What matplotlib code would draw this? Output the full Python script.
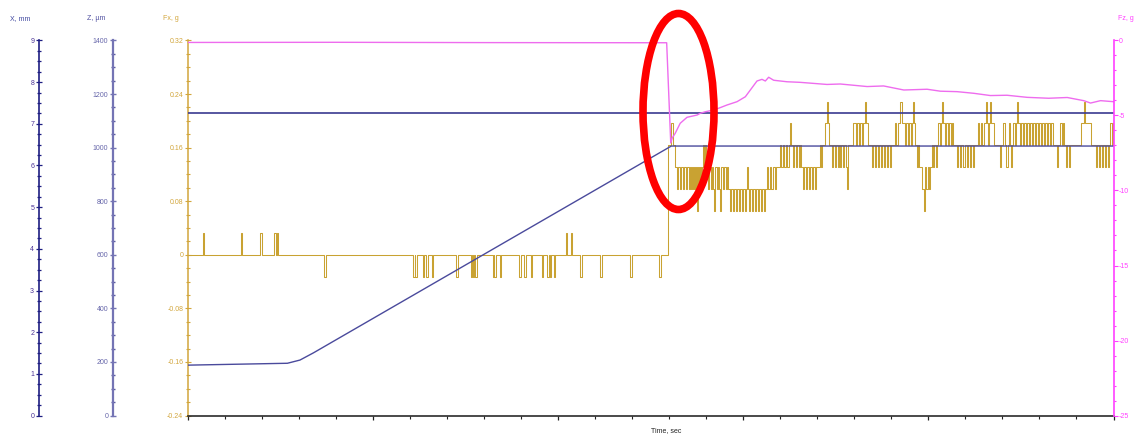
import matplotlib
matplotlib.use("Agg")
import matplotlib.pyplot as plt
from matplotlib.patches import Ellipse
from matplotlib.ticker import MultipleLocator, NullFormatter, FuncFormatter

plt.rcParams['font.family'] = ['Liberation Sans', 'DejaVu Sans']
plt.rcParams['axes.unicode_minus'] = False

# ---------------- data ----------------
T_END = 50.0                      # time axis end, sec
FX_STEP = 0.0327                  # Fx quantisation step, g
FX_DT = 1 / 18.5                  # Fx sample spacing after contact, sec

# Fx before contact: baseline 0 with one-step spikes
fx_up_t = [0.81, 2.85, 3.91, 4.65, 4.79, 20.42, 20.69]
fx_down_t = [7.35, 12.18, 12.27, 12.69, 12.86, 13.17, 14.49, 15.28, 15.39,
             15.51, 16.47, 16.54, 16.83, 17.89, 18.16, 18.52, 19.12, 19.42,
             19.53, 19.75, 21.19, 22.27, 23.89, 25.46]
fx_spike_width = 0.08

# Fx after contact: quantised levels (digit = number of steps), one char per sample
fx_piece_start = [25.95, 26.49, 27.84, 28.00, 29.19, 31.35, 31.89, 32.60, 33.14,
                  34.05, 34.49, 34.70, 35.68, 35.95, 36.59, 36.86, 38.11, 38.65,
                  39.30, 39.68, 40.11, 40.54, 41.30, 41.46, 42.59, 43.08, 43.62,
                  43.78, 44.59, 46.86, 47.78, 48.22, 48.76, 48.92, 49.73]
fx_piece_levels = [
    "5556655443",
    "4434434434434343434243434",
    "545",
    "4434434324434324434434",
    "3323323323323323323432332332332332332334",
    "3343344344",
    "4454454454456",
    "5545545545",
    "44344344344344344",
    "44545556",
    "6765",
    "554554554545545543",
    "55555",
    "666566566566",
    "76655",
    "55455455455455455455455",
    "5565566776",
    "665665665676",
    "5545444",
    "33243343",
    "44545545",
    "66567665665665",
    "655",
    "554554554455455455455",
    "556556556",
    "6765676665",
    "555",
    "554556654456545",
    "665676656656656656656656656656656656656655",
    "55455665655455455",
    "55555555",
    "6667666666",
    "555",
    "554554554554554",
    "566566566",
]

# Fz, g
fz_t = [0.0, 8.0, 16.0, 25.86, 26.08, 26.16, 26.32, 26.59, 26.96, 27.50, 27.68,
        27.95, 28.40, 28.66, 29.12, 29.66, 30.11, 30.38, 30.74, 31.01, 31.19,
        31.37, 31.64, 32.36, 33.08, 34.52, 35.24, 36.69, 37.58, 38.67, 39.93,
        40.65, 41.55, 42.45, 43.35, 44.25, 45.34, 46.50, 47.50, 48.39, 48.76,
        49.30, 50.0]
fz_g = [-0.13, -0.12, -0.14, -0.15, -6.83, -6.50, -6.19, -5.52, -5.12, -4.97,
        -4.85, -4.75, -4.63, -4.52, -4.30, -4.08, -3.75, -3.30, -2.70, -2.59,
        -2.70, -2.45, -2.65, -2.75, -2.79, -2.93, -2.90, -3.07, -3.03, -3.30,
        -3.25, -3.38, -3.41, -3.52, -3.67, -3.65, -3.79, -3.85, -3.80, -4.01,
        -4.17, -4.01, -4.08]

# Z, um
z_t = [0.0, 5.37, 6.05, 6.78, 21.08, 26.11, 50.0]
z_um = [188, 195, 207, 234, 805, 1006, 1006]

# X, mm
x_t = [0.0, 50.0]
x_mm = [7.25, 7.25]

# ---------------- build Fx step series ----------------
pre_events = sorted([(t, 1) for t in fx_up_t] + [(t, -1) for t in fx_down_t])
fx_t = [0.0]
fx_v = [0.0]
for t, s in pre_events:
    fx_t += [t, t + fx_spike_width]
    fx_v += [s * FX_STEP, 0.0]
for i, (t0, lev) in enumerate(zip(fx_piece_start, fx_piece_levels)):
    t_next = fx_piece_start[i + 1] if i + 1 < len(fx_piece_start) else T_END
    for j, ch in enumerate(lev):
        t = t0 + j * FX_DT
        if t >= t_next - 1e-9:
            break
        fx_t.append(t)
        fx_v.append(int(ch) * FX_STEP)
fx_t.append(T_END)
fx_v.append(fx_v[-1])

# ---------------- figure ----------------
W, H = 1136, 436
fig = plt.figure(figsize=(W / 100, H / 100), dpi=100)
fig.patch.set_facecolor('white')

left_px, right_px, top_px, bot_px = 188, 1113.5, 40.5, 415.5
rect = [left_px / W, 1 - bot_px / H, (right_px - left_px) / W, (bot_px - top_px) / H]
axw = right_px - left_px

c_fx = '#d2a63c'
c_fx_line = '#c9a232'
c_fz = '#ff40ff'
c_fz_line = '#ee6cee'
c_x = '#1e1e82'
c_z = '#7474b4'
FS = 5

ax = fig.add_axes(rect)
ax.set_xlim(0, T_END)
ax.set_ylim(-0.24, 0.32)
ax.plot(fx_t, fx_v, drawstyle='steps-post', color=c_fx_line, lw=0.75)
for sp in ['top', 'right']:
    ax.spines[sp].set_visible(False)
ax.spines['left'].set_color(c_fx)
ax.spines['left'].set_linewidth(1.1)
ax.spines['bottom'].set_color('#2a2a2a')
ax.spines['bottom'].set_linewidth(1.2)
ax.yaxis.set_major_locator(MultipleLocator(0.08))
ax.yaxis.set_minor_locator(MultipleLocator(0.02))
ax.yaxis.set_major_formatter(FuncFormatter(
    lambda v, p: '0' if abs(v) < 1e-9 else ('%.2f' % v)))
ax.tick_params(axis='y', which='major', direction='inout', length=4.5, width=0.8,
               color=c_fx, labelcolor=c_fx, labelsize=FS, pad=1.2)
ax.tick_params(axis='y', which='minor', direction='inout', length=2.5, width=0.8, color=c_fx)
ax.xaxis.set_major_locator(MultipleLocator(10))
ax.xaxis.set_minor_locator(MultipleLocator(2))
ax.xaxis.set_major_formatter(NullFormatter())
ax.tick_params(axis='x', which='major', direction='out', length=3.2, width=0.9, color='#222222')
ax.tick_params(axis='x', which='minor', direction='out', length=1.8, width=0.8, color='#222222')
ax.patch.set_visible(False)


def parasite(pos_px, color, lw):
    a = ax.twinx()
    a.set_xlim(0, T_END)
    for sp in ['top', 'right', 'bottom']:
        a.spines[sp].set_visible(False)
    a.spines['left'].set_visible(True)
    a.spines['left'].set_position(('axes', (pos_px - left_px) / axw))
    a.spines['left'].set_color(color)
    a.spines['left'].set_linewidth(lw)
    a.yaxis.set_ticks_position('left')
    a.yaxis.set_label_position('left')
    return a


# Z axis
az = parasite(113.3, c_z, 1.6)
az.set_ylim(0, 1400)
az.plot(z_t, z_um, color='#4a4a9c', lw=1.0)
az.yaxis.set_major_locator(MultipleLocator(200))
az.yaxis.set_minor_locator(MultipleLocator(50))
az.tick_params(axis='y', which='major', direction='inout', length=5, width=1.0,
               color=c_z, labelcolor='#6666aa', labelsize=FS, pad=1.2)
az.tick_params(axis='y', which='minor', direction='inout', length=2.8, width=1.0, color='#5a5aa0')

# X axis
axx = parasite(39.3, c_x, 1.2)
axx.set_ylim(0, 9)
axx.plot(x_t, x_mm, color='#3a3a90', lw=1.2)
axx.yaxis.set_major_locator(MultipleLocator(1))
axx.yaxis.set_minor_locator(MultipleLocator(0.25))
axx.tick_params(axis='y', which='major', direction='inout', length=5, width=0.9,
                color=c_x, labelcolor='#4a3296', labelsize=FS, pad=1.2)
axx.tick_params(axis='y', which='minor', direction='inout', length=2.8, width=0.9, color=c_x)

# Fz axis (right)
afz = ax.twinx()
afz.set_xlim(0, T_END)
afz.set_ylim(-25, 0)
afz.plot(fz_t, fz_g, color=c_fz_line, lw=1.0)
for sp in ['top', 'left', 'bottom']:
    afz.spines[sp].set_visible(False)
afz.spines['right'].set_color(c_fz)
afz.spines['right'].set_linewidth(1.2)
afz.yaxis.set_major_locator(MultipleLocator(5))
afz.yaxis.set_minor_locator(MultipleLocator(1))
afz.tick_params(axis='y', which='major', direction='out', length=3, width=0.8,
                color=c_fz, labelcolor=c_fz, labelsize=FS, pad=0.8)
afz.tick_params(axis='y', which='minor', direction='out', length=1.5, width=0.8, color=c_fz)

# axis titles
ty = 1 - 18.5 / H
fig.text(20.5 / W, ty, 'X, mm', color='#4048a0', fontsize=FS, ha='center', va='center')
fig.text(96 / W, ty, 'Z, µm', color='#5050a0', fontsize=FS, ha='center', va='center')
fig.text(171 / W, ty, 'Fx, g', color=c_fx, fontsize=FS, ha='center', va='center')
fig.text(1134 / W, ty, 'Fz, g', color=c_fz, fontsize=FS, ha='right', va='center')
fig.text(666.5 / W, 1.5 / H, 'Time, sec', color='#222222', fontsize=FS,
         ha='center', va='bottom')

# red ellipse annotation
ell = Ellipse((678.5 / W, 1 - 111.5 / H), 71 / W, 196 / H, transform=fig.transFigure,
              fill=False, edgecolor='#ff0000', linewidth=5.5, clip_on=False, zorder=10)
fig.patches.append(ell)

fig.savefig('out.png', dpi=100)
